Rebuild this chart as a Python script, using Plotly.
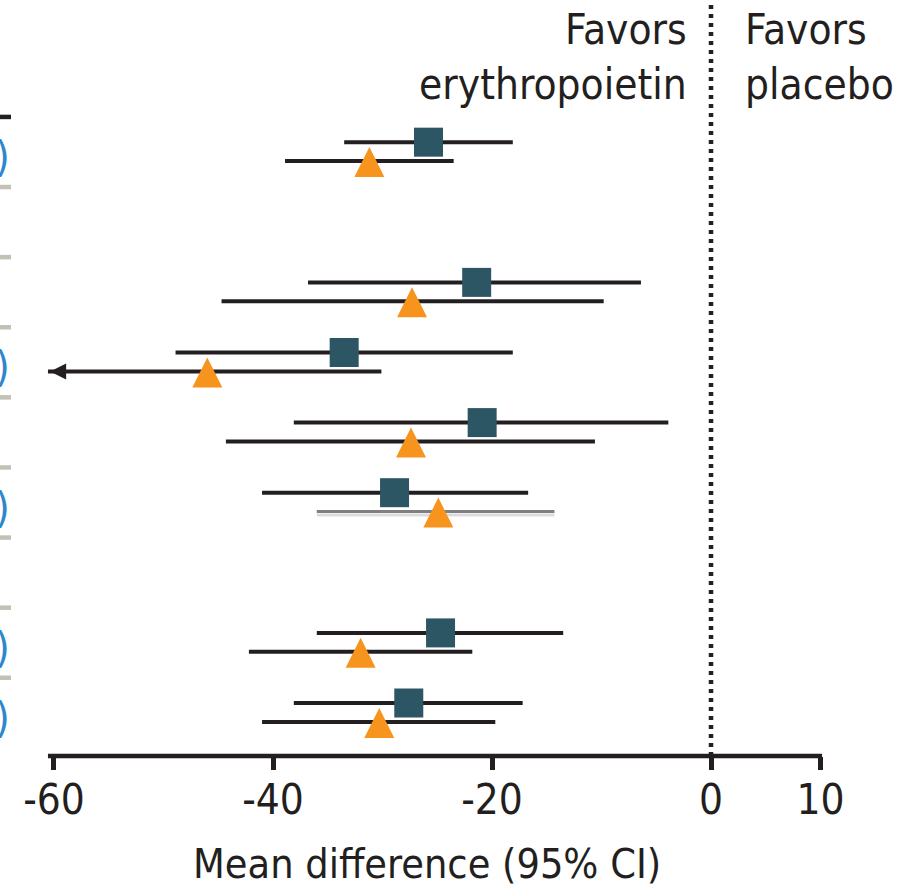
import plotly.graph_objects as go

# ---- data -------------------------------------------------------------
row_slots = [0, 2, 3, 4, 5, 7, 8]          # table row index of each estimate
sq_mean = [-25.8, -21.4, -33.5, -20.9, -28.9, -24.7, -27.6]
sq_lo   = [-33.5, -36.8, -48.9, -38.1, -41.0, -36.0, -38.1]
sq_hi   = [-18.1,  -6.4, -18.1,  -3.9, -16.7, -13.5, -17.2]
tri_mean = [-31.2, -27.3, -46.0, -27.4, -24.9, -32.0, -30.3]
tri_lo   = [-38.9, -44.7, -62.0, -44.3, -36.0, -42.2, -41.0]
tri_hi   = [-23.5,  -9.8, -30.1, -10.6, -14.3, -21.8, -19.7]
tri_gray = [False, False, False, False, True, False, False]

tick_vals = [-60, -40, -20, 0, 10]
tick_text = ["-60", "-40", "-20", "0", "10"]
separator_rows = [-0.5, 0.5, 1.5, 2.5, 3.5, 4.5, 5.5, 6.5, 7.5]
paren_rows = [0, 3, 5, 7, 8]

# ---- style ------------------------------------------------------------
FONT = "DejaVu Sans Condensed, Liberation Sans Narrow, sans-serif"
INK = "#231F20"
SQ_COLOR = "#2D5665"
TRI_COLOR = "#F7941E"
AXIS_MIN, AXIS_MAX = -60.55, 10.14
X_RANGE = [-64.93, 18.81]
Y_RANGE = [8.616, -2.168]
SQ_OFF, TRI_OFF = -0.14, 0.13
TRI_TIP = 0.2          # triangle apex sits this far above its CI line

fig = go.Figure()

def seg_trace(lo, hi, ys, color, width):
    xs, yy = [], []
    for a, b, y in zip(lo, hi, ys):
        xs += [max(a, AXIS_MIN), b, None]
        yy += [y, y, None]
    return go.Scatter(x=xs, y=yy, mode="lines", line=dict(color=color, width=width),
                      hoverinfo="skip", showlegend=False)

sq_y = [r + SQ_OFF for r in row_slots]
tri_y = [r + TRI_OFF for r in row_slots]

fig.add_trace(seg_trace(sq_lo, sq_hi, sq_y, INK, 4))
blk = [i for i, g in enumerate(tri_gray) if not g]
gry = [i for i, g in enumerate(tri_gray) if g]
fig.add_trace(seg_trace([tri_lo[i] for i in blk], [tri_hi[i] for i in blk],
                        [tri_y[i] for i in blk], INK, 4))
fig.add_trace(seg_trace([tri_lo[i] for i in gry], [tri_hi[i] for i in gry],
                        [tri_y[i] + 0.05 for i in gry], "#DCDCDC", 3))
fig.add_trace(seg_trace([tri_lo[i] for i in gry], [tri_hi[i] for i in gry],
                        [tri_y[i] for i in gry], "#808080", 3))

# arrows for truncated intervals
arr_y = [tri_y[i] for i, lo in enumerate(tri_lo) if lo < AXIS_MIN]
fig.add_trace(go.Scatter(x=[AXIS_MIN + 0.2] * len(arr_y), y=arr_y, mode="markers",
                         marker=dict(symbol="arrow-left", size=16, color=INK),
                         hoverinfo="skip", showlegend=False))

fig.add_trace(go.Scatter(x=sq_mean, y=sq_y, mode="markers",
                         marker=dict(symbol="square", size=29, color=SQ_COLOR),
                         showlegend=False))
fig.add_trace(go.Scatter(x=tri_mean, y=[y - TRI_TIP for y in tri_y], mode="markers",
                         marker=dict(symbol="arrow-up", size=30, color=TRI_COLOR),
                         showlegend=False))

shapes = []
# x axis line
shapes.append(dict(type="line", xref="x", yref="paper", x0=AXIS_MIN, x1=AXIS_MAX,
                   y0=0, y1=0, line=dict(color=INK, width=4.5)))
# null line
shapes.append(dict(type="line", xref="x", yref="paper", x0=0, x1=0, y0=0, y1=1,
                   line=dict(color=INK, width=4.5, dash="4px,5px")))
# table separators at left edge
for i, r in enumerate(separator_rows):
    shapes.append(dict(type="line", xref="paper", yref="y", x0=0, x1=11 / 917,
                       y0=r, y1=r,
                       line=dict(color=INK if i == 0 else "#C3C0B5", width=4.5)))

annotations = [
    dict(text="Favors<br>erythropoietin", xref="x", yref="paper", x=0, y=1,
         xanchor="right", yanchor="top", align="right", xshift=-22, yshift=-3,
         showarrow=False, font=dict(family=FONT, size=42, color=INK)),
    dict(text="Favors<br>placebo", xref="x", yref="paper", x=0, y=1,
         xanchor="left", yanchor="top", align="left", xshift=32, yshift=-3,
         showarrow=False, font=dict(family=FONT, size=42, color=INK)),
    dict(text="Mean difference (95% CI)", xref="x", yref="paper",
         x=(AXIS_MIN + AXIS_MAX) / 2 - 0.7, y=0,
         xanchor="center", yanchor="top", yshift=-82,
         showarrow=False, font=dict(family=FONT, size=41, color=INK)),
]
for r in paren_rows:
    annotations.append(dict(text=")", xref="paper", yref="y", x=0, y=r + 0.08,
                            xanchor="right", yanchor="middle", xshift=12,
                            showarrow=False,
                            font=dict(family=FONT, size=42, color="#2C87CE")))

fig.update_layout(
    width=917, height=884,
    margin=dict(l=0, r=0, t=0, b=128, autoexpand=False),
    paper_bgcolor="white", plot_bgcolor="white",
    shapes=shapes, annotations=annotations,
    xaxis=dict(range=X_RANGE, showgrid=False, zeroline=False, showline=False,
               ticks="outside", tickvals=tick_vals, ticktext=tick_text,
               ticklen=13, tickwidth=4.5, tickcolor=INK, ticklabelstandoff=-6,
               tickfont=dict(family=FONT, size=42, color=INK), fixedrange=True),
    yaxis=dict(range=Y_RANGE, visible=False, fixedrange=True),
)

fig.write_html("out.html", config={"displayModeBar": False},
               post_script="document.body.style.margin='0';")
